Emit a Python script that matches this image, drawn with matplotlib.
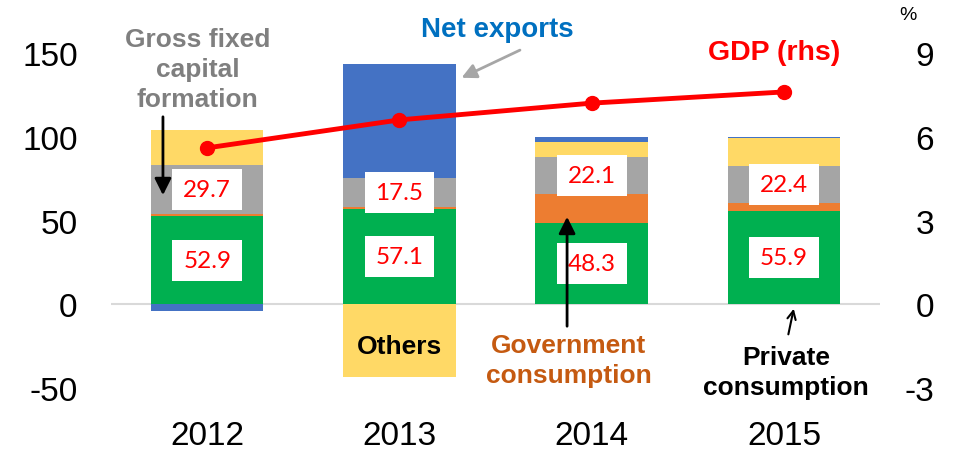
import numpy as np
import matplotlib
matplotlib.use('Agg')
import matplotlib.pyplot as plt
from matplotlib.patches import Rectangle

# contributions to GDP (share of growth, %) and real GDP growth (rhs)
years = ['2012', '2013', '2014', '2015']
private = [52.9, 57.1, 48.3, 55.9]
government = [0.8, 1.0, 17.5, 4.4]
gfcf = [29.7, 17.5, 22.1, 22.4]
others = [20.3, -43.1, 8.9, 16.3]
net_exports = [-3.7, 67.5, 3.0, 1.0]
gdp = [5.6, 6.6, 7.2, 7.6]

left_ticks = [-50, 0, 50, 100, 150]
right_ticks = [-3, 0, 3, 6, 9]

plt.rcParams['font.family'] = ['Liberation Sans', 'DejaVu Sans']
plt.rcParams['axes.unicode_minus'] = False

series = [private, government, gfcf, others, net_exports]
colors = ['#00B050', '#ED7D31', '#A5A5A5', '#FFD966', '#4472C4']

fig = plt.figure(figsize=(9.54, 4.52), dpi=100)
ax = fig.add_axes([0.1164, 0.1385, 0.8061, 0.7425])
ax2 = ax.twinx()

x = np.arange(len(years))
width = 0.585

# stack positives upward and negatives downward
pos = np.zeros(len(years))
neg = np.zeros(len(years))
for vals, col in zip(series, colors):
    vals = np.array(vals)
    bottom = np.where(vals >= 0, pos, neg)
    ax.bar(x, vals, width, bottom=bottom, color=col, linewidth=0, zorder=2)
    pos = pos + np.clip(vals, 0, None)
    neg = neg + np.clip(vals, None, 0)

ax.axhline(0, color='#D9D9D9', lw=1.5, zorder=1)

# white boxes with the values of private consumption and GFCF
bw, bh = 0.363, 24.4
for i in range(len(years)):
    for mid, val in [(private[i] / 2., private[i]),
                     (private[i] + government[i] + gfcf[i] / 2., gfcf[i])]:
        ax.add_patch(Rectangle((x[i] - bw / 2, mid - bh / 2), bw, bh,
                               facecolor='white', edgecolor='none', zorder=3))
        ax.text(x[i], mid, '%.1f' % val, color='#FF0000', fontsize=17.5,
                family='Lato', ha='center', va='center', zorder=4)

ax.set_xlim(-0.5, 3.5)
ax.set_ylim(-50, 150)
ax2.set_ylim(-3, 9)
ax.set_xticks(x)
ax.set_xticklabels(years)
ax.set_yticks(left_ticks)
ax2.set_yticks(right_ticks)
ax.tick_params(axis='both', length=0, labelsize=24)
ax.tick_params(axis='y', pad=24)
ax.tick_params(axis='x', pad=23)
ax2.tick_params(axis='y', length=0, labelsize=24, pad=39)
for lab in ax2.get_yticklabels():
    lab.set_horizontalalignment('right')
for a in (ax, ax2):
    for s in a.spines.values():
        s.set_visible(False)

ax2.plot(x, gdp, color='#FF0000', lw=3.5, marker='o', ms=10, zorder=5)

# labels and arrows
bold = dict(fontsize=19, fontweight='bold', ha='center', va='center')
ax.text(-0.05, 140.3, 'Gross fixed\ncapital\nformation', color='#7F7F7F',
        linespacing=1.3, **bold)
ax.annotate('', xy=(-0.23, 63.5), xytext=(-0.23, 113.5),
            arrowprops=dict(arrowstyle='-|>', color='black', lw=2,
                            mutation_scale=25), zorder=6)
ax.text(1.51, 164.2, 'Net exports', color='#0070C0', clip_on=False,
        **dict(bold, fontsize=20))
ax.annotate('', xy=(1.31, 134.4), xytext=(1.64, 152.3),
            arrowprops=dict(arrowstyle='-|>', color='#A6A6A6', lw=2,
                            mutation_scale=22), annotation_clip=False)
ax.text(2.95, 150.5, 'GDP (rhs)', color='#FF0000', **dict(bold, fontsize=20.5))
ax.text(1.0, -24.7, 'Others', color='black', zorder=4, **bold)
ax.text(1.88, -33.1, 'Government\nconsumption', color='#C55A11',
        linespacing=1.35, **bold)
ax.annotate('', xy=(1.872, 53.9), xytext=(1.872, -14.6),
            arrowprops=dict(arrowstyle='-|>', color='black', lw=2,
                            mutation_scale=25), zorder=6)
ax.text(3.01, -40.2, 'Private\nconsumption', color='black',
        linespacing=1.3, **bold)
ax.annotate('', xy=(3.054, -0.9), xytext=(3.02, -19.4),
            arrowprops=dict(arrowstyle='->', color='black', lw=1.5,
                            mutation_scale=15), zorder=6)

fig.text(908 / 954., 1 - 15 / 452., '%', fontsize=14, ha='center',
         va='center')

fig.savefig('out.png', dpi=100)
